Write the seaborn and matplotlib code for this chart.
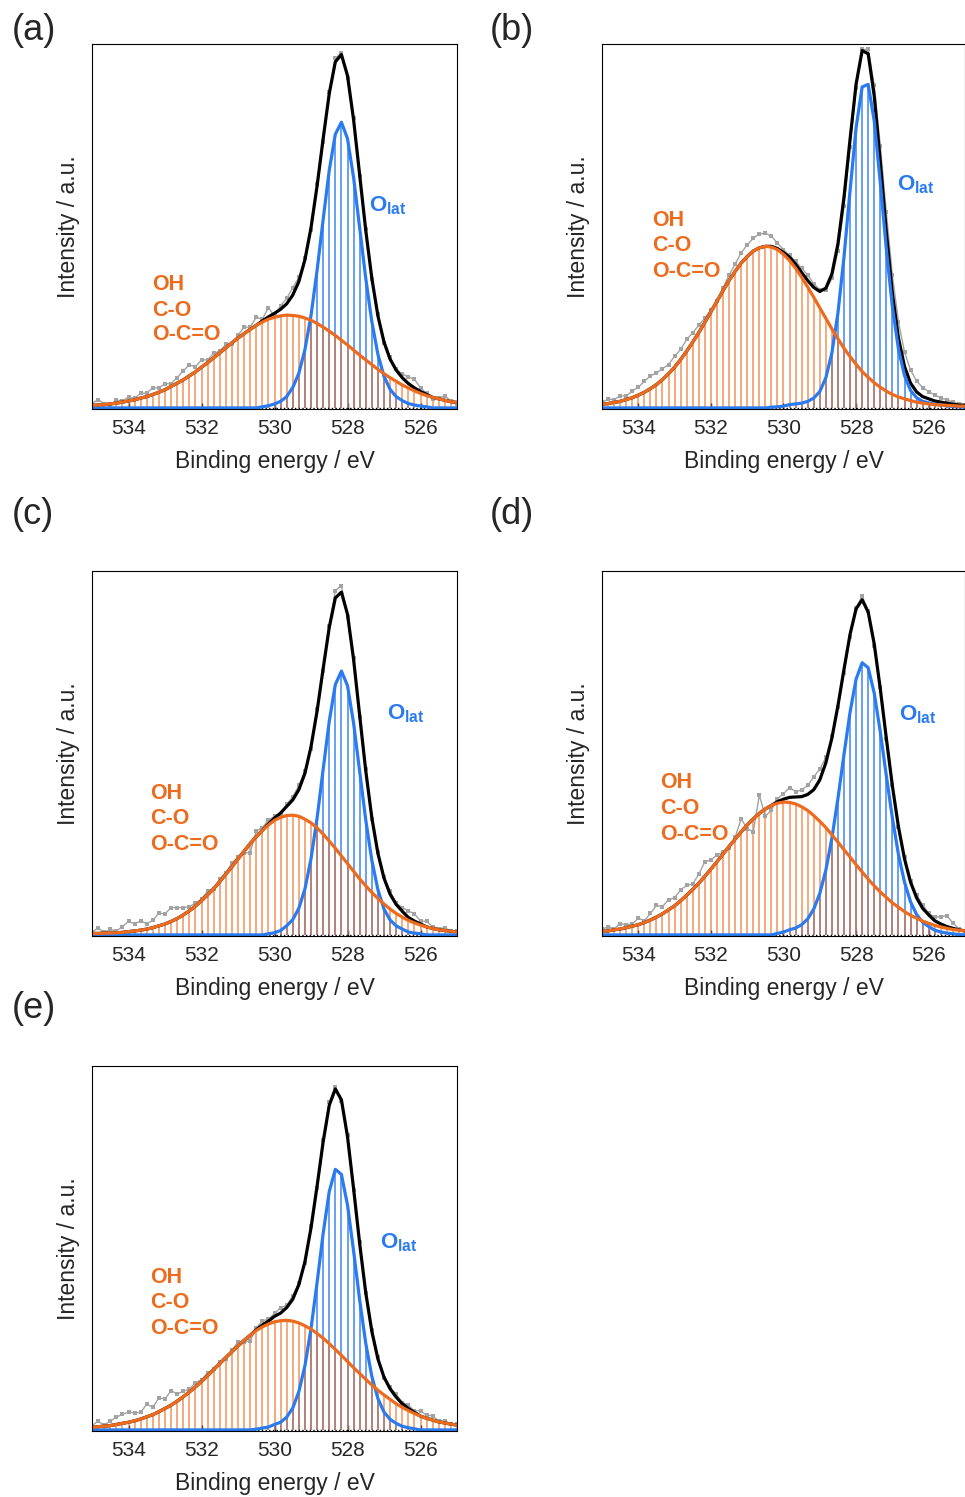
import numpy as np
import pandas as pd
import matplotlib
matplotlib.use("Agg")
import matplotlib.pyplot as plt
import seaborn as sns

sns.set_theme(style="white")
plt.rcParams['font.family'] = ['Liberation Sans', 'DejaVu Sans']
plt.rcParams['mathtext.fontset'] = 'custom'
plt.rcParams['mathtext.rm'] = 'Liberation Sans'
plt.rcParams['mathtext.bf'] = 'Liberation Sans:bold'

# binding energy grid (eV), 535 -> 525
energy = np.linspace(535, 525, 61)

# (a)
a_raw = [1.2, 2.3, 1.2, 0.9, 2.1, 2.0, 2.9, 2.7, 4.0, 4.1,
         5.5, 5.5, 6.6, 6.7, 8.3, 10.2, 11.8, 11.3, 13.2, 13.2,
         15.0, 15.6, 17.5, 17.6, 20.0, 22.2, 22.2, 24.9, 24.4, 27.5,
         25.2, 28.1, 30.1, 33.0, 35.9, 41.2, 49.0, 61.5, 73.2, 86.7,
         96.1, 97.5, 90.7, 79.7, 63.6, 49.1, 35.3, 25.7, 17.9, 14.0,
         10.6, 9.3, 8.5, 7.9, 5.5, 4.0, 2.4, 2.7, 3.3, 1.9, 1.2]
a_olat = [0.0] * 28 + [0.3, 0.6, 1.1, 1.8, 3.1, 5.6, 9.5, 16.0, 25.4, 37.8,
                       51.8, 65.3, 75.2, 78.5, 74.0, 63.3, 49.5, 35.6, 23.7, 14.7,
                       8.7, 5.1, 3.1, 2.0, 1.2, 0.8, 0.5, 0.3] + [0.0] * 5
a_oh = [0.7, 0.8, 0.9, 1.1, 1.3, 1.6, 1.9, 2.2, 2.7, 3.1,
        3.7, 4.3, 5.0, 5.9, 6.8, 7.7, 8.8, 9.9, 11.2, 12.4,
        13.8, 15.1, 16.5, 17.9, 19.2, 20.4, 21.6, 22.7, 23.6, 24.4,
        24.9, 25.3, 25.5, 25.4, 25.2, 24.7, 24.1, 23.2, 22.2, 21.1,
        19.9, 18.6, 17.3, 15.9, 14.5, 13.2, 11.9, 10.6, 9.4, 8.3,
        7.3, 6.3, 5.5, 4.7, 4.0, 3.4, 2.9, 2.5, 2.1, 1.7, 1.5]

# (b)
b_raw = [1.5, 2.4, 2.3, 3.3, 3.3, 4.6, 5.7, 7.3, 8.8, 9.6,
         10.8, 11.9, 14.2, 16.1, 18.8, 20.7, 22.7, 24.7, 26.9, 29.3,
         33.0, 36.5, 39.5, 42.6, 44.8, 46.6, 47.8, 48.0, 47.2, 45.3,
         43.5, 41.9, 40.3, 38.4, 36.5, 34.1, 32.5, 32.4, 35.6, 43.1,
         55.4, 71.8, 88.0, 98.5, 98.5, 88.7, 72.1, 53.7, 36.4, 23.7,
         15.4, 10.4, 7.4, 5.6, 4.5, 3.5, 2.8, 2.2, 1.6, 1.2, 0.9]
b_olat = [0.0] * 28 + [0.2, 0.3, 0.5, 0.9, 1.1, 1.3, 1.8, 2.7, 4.5, 8.3,
                       15.1, 26.1, 41.5, 59.7, 77.0, 88.2, 88.9, 78.8, 61.9, 43.6,
                       27.7, 16.2, 8.9, 4.8, 2.8, 1.8, 1.4, 1.0, 0.8, 0.6,
                       0.4, 0.3, 0.2]
b_oh = [1.0, 1.2, 1.5, 1.8, 2.3, 2.8, 3.5, 4.3, 5.3, 6.4,
        7.8, 9.4, 11.2, 13.3, 15.6, 18.1, 20.7, 23.5, 26.4, 29.3,
        32.2, 35.0, 37.5, 39.8, 41.6, 43.1, 44.0, 44.4, 44.2, 43.5,
        42.2, 40.5, 38.4, 35.9, 33.2, 30.4, 27.5, 24.6, 21.7, 19.0,
        16.4, 14.1, 12.0, 10.0, 8.4, 6.9, 5.7, 4.6, 3.7, 3.0,
        2.5, 2.0, 1.6, 1.3, 1.1, 0.9, 0.8, 0.7, 0.6, 0.5, 0.5]

# (c)
c_raw = [0.7, 1.9, 0.7, 1.5, 1.1, 2.3, 3.7, 3.1, 3.8, 3.1,
         4.0, 6.0, 5.8, 7.5, 7.5, 7.5, 7.8, 8.7, 9.9, 12.0,
         12.7, 15.4, 17.1, 19.7, 21.4, 22.5, 22.6, 28.5, 29.5, 31.5,
         32.6, 33.2, 35.9, 37.9, 41.1, 45.0, 51.2, 62.0, 72.6, 84.8,
         94.6, 96.0, 87.3, 76.1, 59.8, 45.7, 31.9, 22.9, 15.8, 12.0,
         8.7, 7.5, 6.6, 5.8, 3.8, 3.7, 2.3, 1.7, 2.0, 1.0, 1.1]
c_olat = [0.0] * 29 + [0.3, 0.6, 1.2, 2.5, 4.2, 7.3, 12.6, 20.9, 32.1, 45.5,
                       58.7, 68.8, 72.5, 68.5, 58.2, 44.9, 31.6, 20.5, 12.4, 7.1,
                       4.1, 2.5, 1.6, 0.8, 0.5, 0.3] + [0.0] * 6
c_oh = [0.4, 0.4, 0.5, 0.5, 0.6, 0.7, 0.9, 1.1, 1.3, 1.6,
        2.0, 2.5, 3.0, 3.7, 4.5, 5.5, 6.6, 7.9, 9.4, 11.0,
        12.7, 14.6, 16.7, 18.7, 20.9, 23.0, 25.1, 27.0, 28.7, 30.2,
        31.5, 32.3, 32.8, 32.9, 32.6, 31.8, 30.8, 29.4, 27.7, 25.8,
        23.8, 21.7, 19.6, 17.5, 15.4, 13.5, 11.7, 10.0, 8.5, 7.1,
        5.9, 4.9, 4.0, 3.3, 2.7, 2.2, 1.8, 1.4, 1.2, 1.0, 0.8]

# (d)
d_raw = [1.5, 2.3, 1.7, 3.1, 2.8, 3.0, 4.6, 3.9, 5.9, 8.1,
         7.8, 9.7, 10.2, 12.4, 13.6, 14.0, 16.7, 20.1, 20.6, 21.9,
         22.7, 24.0, 26.8, 31.9, 29.2, 28.3, 38.4, 32.6, 34.3, 37.4,
         38.8, 40.5, 39.4, 39.8, 41.1, 43.4, 45.6, 48.8, 54.6, 62.5,
         72.0, 81.8, 89.9, 93.1, 89.0, 79.4, 68.1, 53.7, 41.3, 29.7,
         21.4, 14.8, 11.0, 8.3, 5.9, 4.9, 5.0, 5.3, 3.3, 1.7, 1.1]
d_olat = [0.0] * 29 + [0.4, 0.8, 1.4, 1.9, 2.8, 4.4, 7.1, 11.4, 17.8, 26.6,
                       37.5, 49.6, 61.2, 70.3, 74.8, 73.4, 66.4, 55.8, 43.7, 32.1,
                       22.1, 14.5, 9.1, 5.6, 3.5, 2.3, 1.3, 0.8, 0.5, 0.3,
                       0.1, 0.0]
d_oh = [1.0, 1.1, 1.4, 1.6, 2.0, 2.4, 2.8, 3.4, 4.1, 4.9,
        5.8, 6.9, 8.0, 9.4, 10.9, 12.5, 14.2, 16.1, 18.1, 20.1,
        22.2, 24.3, 26.3, 28.3, 30.2, 31.9, 33.4, 34.6, 35.6, 36.2,
        36.5, 36.4, 36.0, 35.2, 34.2, 32.8, 31.2, 29.5, 27.5, 25.5,
        23.4, 21.4, 19.3, 17.3, 15.3, 13.5, 11.8, 10.3, 8.8, 7.6,
        6.4, 5.4, 4.6, 3.8, 3.2, 2.6, 2.2, 1.8, 1.5, 1.3, 1.1]

# (e)
e_raw = [1.2, 2.4, 1.3, 2.4, 3.5, 4.3, 4.9, 4.7, 4.8, 7.1,
         6.2, 8.8, 8.5, 10.8, 9.9, 10.6, 11.2, 13.0, 13.8, 15.7,
         16.6, 18.7, 19.6, 21.9, 24.1, 24.1, 24.5, 28.0, 30.0, 30.4,
         32.0, 33.6, 34.2, 36.9, 40.4, 45.8, 56.0, 66.5, 79.6, 90.0,
         94.3, 90.3, 81.1, 66.0, 51.6, 37.5, 27.4, 20.0, 14.2, 11.7,
         9.8, 7.5, 6.9, 5.2, 5.3, 4.0, 3.9, 2.4, 2.5, 1.6, 1.5]
e_olat = [0.0] * 27 + [0.2, 0.5, 0.8, 1.5, 2.1, 3.5, 6.0, 10.5, 17.6, 27.8,
                       40.5, 54.0, 65.5, 71.6, 70.2, 61.8, 49.2, 35.7, 23.8, 14.7,
                       8.6, 4.9, 2.9, 1.8, 1.0, 0.6, 0.3] + [0.0] * 7
e_oh = [0.7, 0.9, 1.0, 1.2, 1.5, 1.8, 2.1, 2.5, 3.0, 3.6,
        4.2, 5.0, 5.9, 6.8, 7.9, 9.1, 10.4, 11.8, 13.3, 14.9,
        16.6, 18.2, 19.9, 21.5, 23.1, 24.6, 26.0, 27.3, 28.3, 29.1,
        29.7, 30.0, 30.1, 29.9, 29.4, 28.6, 27.7, 26.5, 25.2, 23.7,
        22.1, 20.5, 18.8, 17.1, 15.5, 13.9, 12.4, 10.9, 9.6, 8.4,
        7.2, 6.2, 5.3, 4.5, 3.8, 3.2, 2.7, 2.2, 1.9, 1.6, 1.3]

ticks = [534, 532, 530, 528, 526]
oxygen_labels = ['OH', 'C-O', 'O-C=O']

panels = {'a': (a_raw, a_olat, a_oh), 'b': (b_raw, b_olat, b_oh),
          'c': (c_raw, c_olat, c_oh), 'd': (d_raw, d_olat, d_oh),
          'e': (e_raw, e_olat, e_oh)}

# axes boxes in pixels: left, bottom(y from top), width
boxes = {'a': (92, 409, 365), 'b': (602, 409, 363), 'c': (92, 936, 365),
         'd': (602, 936, 363), 'e': (92, 1431, 365)}
# annotation spots (axes fraction)
txt = {'a': (0.164, [0.325, 0.256, 0.188], 0.759, 0.541),
       'b': (0.138, [0.502, 0.432, 0.361], 0.813, 0.599),
       'c': (0.159, [0.375, 0.306, 0.235], 0.808, 0.594),
       'd': (0.160, [0.405, 0.333, 0.262], 0.818, 0.591),
       'e': (0.159, [0.405, 0.336, 0.265], 0.789, 0.501)}
lab = {'a': (12, 31), 'b': (490, 31), 'c': (12, 515), 'd': (490, 515), 'e': (12, 1008)}

BLUE = '#2a7af0'
ORNG = '#ee6a1c'
GREY = '#a3a3a3'

fig = plt.figure(figsize=(9.65, 14.97), dpi=100)

for k, (raw, olat, oh) in panels.items():
    x0, yb, w = boxes[k]
    ax = fig.add_axes([x0 / 965, 1 - yb / 1497, w / 965, 365 / 1497])
    df = pd.DataFrame({'energy': energy, 'raw': raw, 'olat': olat, 'oh': oh})
    df['fit'] = df['olat'] + df['oh']

    ax.vlines(df['energy'], 0, df['olat'], color=BLUE, lw=1.1, alpha=0.9)
    ax.vlines(df['energy'], 0, df['oh'], color=ORNG, lw=1.1, alpha=0.72)
    ax.axhline(0, color='black', lw=1, ls=':')
    sns.lineplot(data=df, x='energy', y='raw', ax=ax, color=GREY, lw=1,
                 marker='s', markersize=3, markeredgewidth=0)
    sns.lineplot(data=df, x='energy', y='fit', ax=ax, color='black', lw=2.3)
    sns.lineplot(data=df, x='energy', y='olat', ax=ax, color=BLUE, lw=2.3)
    sns.lineplot(data=df, x='energy', y='oh', ax=ax, color=ORNG, lw=2.3)

    ax.set_xlim(535, 525)
    ax.set_ylim(-0.3, 100)
    ax.set_xticks(ticks)
    ax.set_yticks([])
    ax.tick_params(axis='x', direction='in', length=4, width=1, color='black',
                   labelsize=15, pad=7, bottom=True)
    for s in ax.spines.values():
        s.set_color('black')
        s.set_linewidth(0.8)
    ax.set_xlabel('Binding energy / eV', fontsize=16.5, labelpad=8.5)
    ax.set_ylabel('Intensity / a.u.', fontsize=16.5, labelpad=9)

    tx, tys, ox, oy = txt[k]
    for s, ty in zip(oxygen_labels, tys):
        ax.text(tx, ty, s, transform=ax.transAxes, color=ORNG, fontsize=15.5,
                fontweight='bold', va='baseline')
    ax.text(ox, oy, r'$\mathbf{O}_{\mathbf{lat}}$', transform=ax.transAxes,
            color=BLUE, fontsize=16, va='baseline')
    fig.text(lab[k][0] / 965, 1 - lab[k][1] / 1497, f'({k})', fontsize=26,
             va='center', ha='left')

fig.savefig("out.png")
